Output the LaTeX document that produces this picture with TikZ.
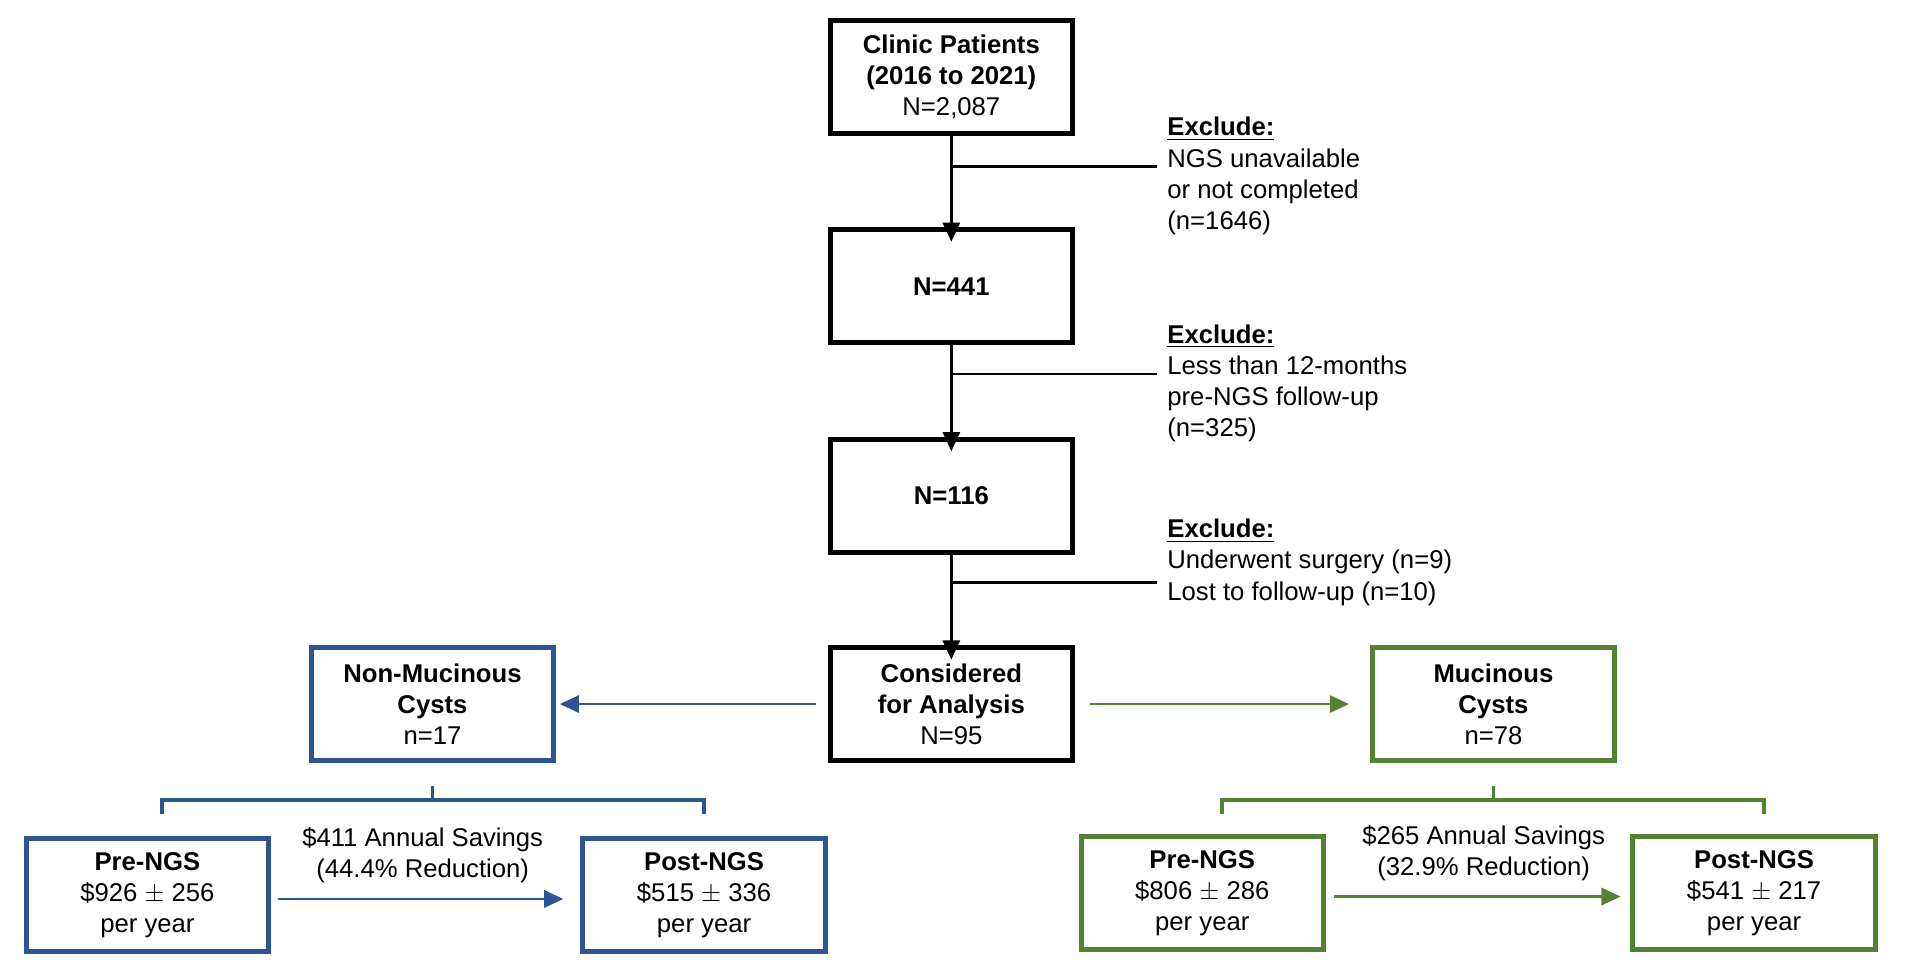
\documentclass[tikz,border=0pt]{standalone}
\usepackage{fontspec}
\setmainfont{Liberation Sans}
\usetikzlibrary{arrows.meta}
\definecolor{cblue}{RGB}{46,84,150}
\definecolor{cgreen}{RGB}{84,130,53}
\begin{document}
\begin{tikzpicture}
        [x=0.02cm,y=-0.02cm,font=\fontsize{12}{14.5}\selectfont,
         box/.style={draw,line width=2.3pt,minimum width=3.98cm,minimum height=1.86cm,align=center,inner sep=0},
         arr/.style={line width=1.3pt,-{Triangle[length=9pt,width=8pt]}},
         note/.style={anchor=north west,align=left,inner sep=0}]

        \useasboundingbox (0,0) rectangle (1568,803);

        \node[box] (clinic) at (781,63) {\textbf{Clinic Patients}\\\textbf{(2016 to 2021)}\\N=2,087};
        \node[box] (n441) at (781,235) {\textbf{N=441}};
        \node[box] (n116) at (781,407) {\textbf{N=116}};
        \node[box] (cons) at (781,578) {\textbf{Considered}\\\textbf{for Analysis}\\N=95};
        \node[box,cblue] (nonmuc) at (355,578) {\textcolor{black}{\textbf{Non-Mucinous}}\\\textcolor{black}{\textbf{Cysts}}\\\textcolor{black}{n=17}};
        \node[box,cgreen] (muc) at (1226,578) {\textcolor{black}{\textbf{Mucinous}}\\\textcolor{black}{\textbf{Cysts}}\\\textcolor{black}{n=78}};
        \node[box,cblue] (npre) at (121,735) {\textcolor{black}{\textbf{Pre-NGS}}\\\textcolor{black}{\$926 $\pm$ 256}\\\textcolor{black}{per year}};
        \node[box,cblue] (npost) at (578,735) {\textcolor{black}{\textbf{Post-NGS}}\\\textcolor{black}{\$515 $\pm$ 336}\\\textcolor{black}{per year}};
        \node[box,cgreen] (mpre) at (987,733) {\textcolor{black}{\textbf{Pre-NGS}}\\\textcolor{black}{\$806 $\pm$ 286}\\\textcolor{black}{per year}};
        \node[box,cgreen] (mpost) at (1440,733) {\textcolor{black}{\textbf{Post-NGS}}\\\textcolor{black}{\$541 $\pm$ 217}\\\textcolor{black}{per year}};

        % exclusions
        \node[note] (ex1) at (958,96) {\textbf{\underline{Exclude:}}\\NGS unavailable\\or not completed\\(n=1646)};
        \node[note] (ex2) at (958,266) {\textbf{\underline{Exclude:}}\\Less than 12-months\\pre-NGS follow-up\\(n=325)};
        \node[note] (ex3) at (958,426) {\textbf{\underline{Exclude:}}\\Underwent surgery (n=9)\\Lost to follow-up (n=10)};
        \coordinate (b1) at (781,137);
        \coordinate (e1) at (950,137);
        \coordinate (b2) at (781,307);
        \coordinate (e2) at (950,307);
        \coordinate (b3) at (781,478);
        \coordinate (e3) at (950,478);

        \draw [arr] (clinic) -- ([yshift=-0.24cm]n441.north);
        \draw [arr] (n441) -- ([yshift=-0.24cm]n116.north);
        \draw [arr] (n116) -- ([yshift=-0.24cm]cons.north);
        \draw [line width=1.3pt] (b1) -- (e1);
        \draw [line width=1.3pt] (b2) -- (e2);
        \draw [line width=1.3pt] (b3) -- (e3);

        \draw [arr,cblue] ([xshift=-0.2cm]cons.west) -- ([xshift=0.06cm]nonmuc.east);
        \draw [arr,cgreen] ([xshift=0.24cm]cons.east) -- ([xshift=-0.34cm]muc.west);

        % brackets
        \draw [cblue,line width=2pt] (133,668) -- (133,657) -- (578,657) -- (578,668);
        \draw [cblue,line width=1.5pt] (355,645) -- (355,657);
        \draw [cgreen,line width=2pt] (1003,668) -- (1003,657) -- (1448,657) -- (1448,668);
        \draw [cgreen,line width=1.5pt] (1226,645) -- (1226,657);

        % savings
        \draw [arr,cblue] ([xshift=0.12cm,yshift=-0.06cm]npre.east) -- ([xshift=-0.28cm,yshift=-0.06cm]npost.west);
        \draw [arr,cgreen] ([xshift=0.14cm,yshift=-0.06cm]mpre.east) -- ([xshift=-0.16cm,yshift=-0.06cm]mpost.west);
        \node[align=center,inner sep=0] (nsav) at (347,702) {\$411 Annual Savings\\(44.4\% Reduction)};
        \node[align=center,inner sep=0] (msav) at (1218,700) {\$265 Annual Savings\\(32.9\% Reduction)};

      \end{tikzpicture}
\end{document}
